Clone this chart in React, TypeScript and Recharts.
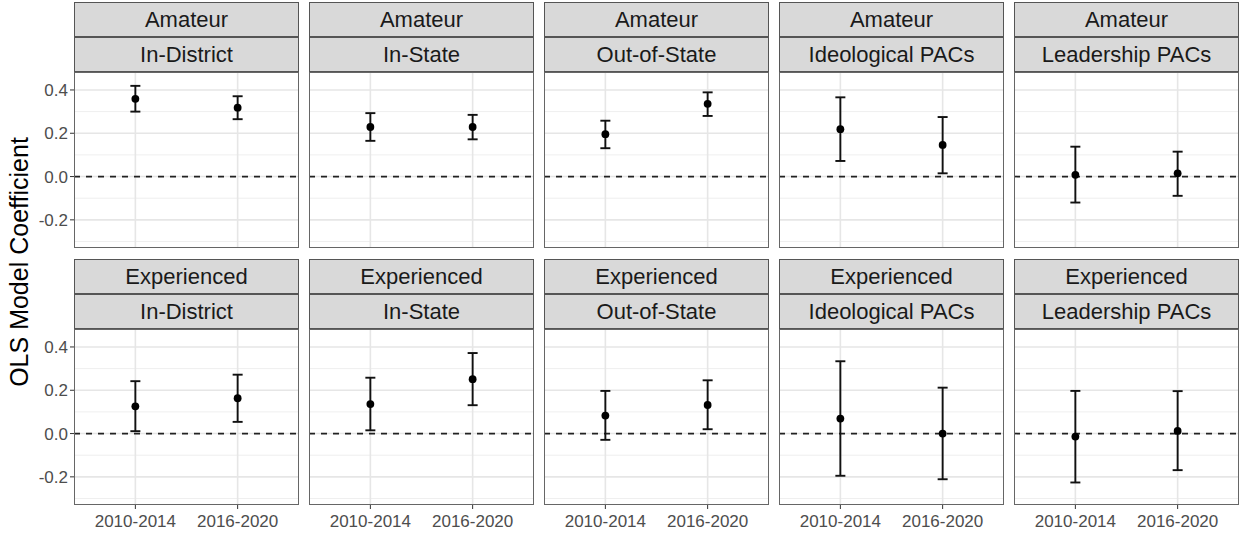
import React from 'react'
import { ComposedChart, Scatter, ErrorBar, XAxis, YAxis, ReferenceLine } from 'recharts'

const periods = ['2010-2014', '2016-2020']
const experienceLevels = ['Amateur', 'Experienced']
const sources = ['In-District', 'In-State', 'Out-of-State', 'Ideological PACs', 'Leadership PACs']

// one pair per source: [2010-2014, 2016-2020]
const amateurEst = [[0.359, 0.318], [0.229, 0.229], [0.196, 0.336], [0.219, 0.146], [0.008, 0.015]]
const amateurLow = [[0.300, 0.265], [0.165, 0.172], [0.131, 0.280], [0.072, 0.015], [-0.120, -0.089]]
const amateurHigh = [[0.419, 0.371], [0.293, 0.285], [0.258, 0.389], [0.366, 0.275], [0.138, 0.115]]

const experiencedEst = [[0.126, 0.163], [0.136, 0.251], [0.083, 0.132], [0.069, 0.0], [-0.014, 0.012]]
const experiencedLow = [[0.011, 0.054], [0.015, 0.131], [-0.029, 0.020], [-0.195, -0.211], [-0.226, -0.169]]
const experiencedHigh = [[0.242, 0.272], [0.258, 0.372], [0.197, 0.246], [0.334, 0.212], [0.197, 0.196]]

const yTicks = [-0.2, 0, 0.2, 0.4]
const yMinor = [-0.3, -0.1, 0.1, 0.3]

const estByRow = [amateurEst, experiencedEst]
const lowByRow = [amateurLow, experiencedLow]
const highByRow = [amateurHigh, experiencedHigh]

const FONT = '"Liberation Sans", Arial, Helvetica, sans-serif'
const AXIS_W = 74
const PANEL_W = 225
const PANEL_GAP = 10
const PLOT_H = 176
const XAXIS_H = 30
const STRIP_H = 35
const rowTops = [2, 259]

const stripStyle: React.CSSProperties = {
  boxSizing: 'border-box',
  height: STRIP_H,
  width: PANEL_W,
  background: '#D9D9D9',
  border: '1px solid #555555',
  color: '#1A1A1A',
  fontSize: 22,
  lineHeight: `${STRIP_H - 2}px`,
  textAlign: 'center',
  whiteSpace: 'nowrap',
}

function buildRows(row: number, col: number) {
  return periods.map((p, i) => {
    const est = estByRow[row][col][i]
    const lo = lowByRow[row][col][i]
    const hi = highByRow[row][col][i]
    return { x: i + 1, period: p, est, err: [est - lo, hi - est] }
  })
}

function Dot(props: any) {
  const { cx, cy } = props
  if (cx == null || cy == null) return null
  return <circle cx={cx} cy={cy} r={3.9} fill="#000" />
}

function Panel({ row, col }: { row: number; col: number }) {
  const isLeft = col === 0
  const isBottom = row === 1
  const left = AXIS_W + col * (PANEL_W + PANEL_GAP)
  const top = rowTops[row]
  const plotTop = top + STRIP_H * 2
  const chartW = PANEL_W + (isLeft ? AXIS_W : 0)
  const chartH = PLOT_H + (isBottom ? XAXIS_H : 0)
  const data = buildRows(row, col)

  return (
    <>
      <div style={{ position: 'absolute', left, top }}>
        <div style={stripStyle}>{experienceLevels[row]}</div>
        <div style={stripStyle}>{sources[col]}</div>
      </div>
      <div style={{ position: 'absolute', left: isLeft ? 0 : left, top: plotTop }}>
        <ComposedChart width={chartW} height={chartH} data={data} margin={{ top: 0, right: 0, bottom: 0, left: 0 }}>
          <XAxis
            type="number"
            dataKey="x"
            domain={[0.4, 2.6]}
            ticks={[1, 2]}
            allowDataOverflow
            hide={!isBottom}
            height={XAXIS_H}
            tickFormatter={(v: number) => periods[v - 1]}
            axisLine={false}
            tickLine={{ stroke: '#333333' }}
            tickSize={4}
            tickMargin={6}
            tick={{ fill: '#4D4D4D', fontSize: 17, fontFamily: FONT }}
          />
          <YAxis
            type="number"
            dataKey="est"
            domain={[-0.33, 0.483]}
            ticks={yTicks}
            allowDataOverflow
            hide={!isLeft}
            width={AXIS_W}
            tickFormatter={(v: number) => v.toFixed(1)}
            axisLine={false}
            tickLine={{ stroke: '#333333' }}
            tickSize={4}
            tickMargin={2}
            tick={{ fill: '#4D4D4D', fontSize: 17, fontFamily: FONT }}
          />
          {yMinor.map((v) => (
            <ReferenceLine key={'mn' + v} y={v} stroke="#EFEFEF" strokeWidth={1} />
          ))}
          {yTicks.map((v) => (
            <ReferenceLine key={'mj' + v} y={v} stroke="#E6E6E6" strokeWidth={1.6} />
          ))}
          {[1, 2].map((v) => (
            <ReferenceLine key={'vx' + v} x={v} stroke="#E6E6E6" strokeWidth={1.6} />
          ))}
          <ReferenceLine y={0} stroke="#222222" strokeWidth={1.7} strokeDasharray="6 6" />
          <Scatter dataKey="est" isAnimationActive={false} shape={<Dot />}>
            <ErrorBar dataKey="err" direction="y" width={5} strokeWidth={1.9} stroke="#111111" />
          </Scatter>
        </ComposedChart>
      </div>
      <div
        style={{
          position: 'absolute',
          left,
          top: plotTop,
          width: PANEL_W,
          height: PLOT_H,
          boxSizing: 'border-box',
          border: '1px solid #666666',
          pointerEvents: 'none',
        }}
      />
    </>
  )
}

export default function App() {
  return (
    <div
      style={{
        position: 'absolute',
        left: 0,
        top: 0,
        width: 1239,
        height: 535,
        background: '#fff',
        fontFamily: FONT,
        overflow: 'hidden',
      }}
    >
      {experienceLevels.map((_, r) => sources.map((_, c) => <Panel key={r + '-' + c} row={r} col={c} />))}
      <div
        style={{
          position: 'absolute',
          left: 19,
          top: 262,
          transform: 'translate(-50%, -50%) rotate(-90deg)',
          fontSize: 25,
          color: '#000',
          whiteSpace: 'nowrap',
        }}
      >
        OLS Model Coefficient
      </div>
    </div>
  )
}
